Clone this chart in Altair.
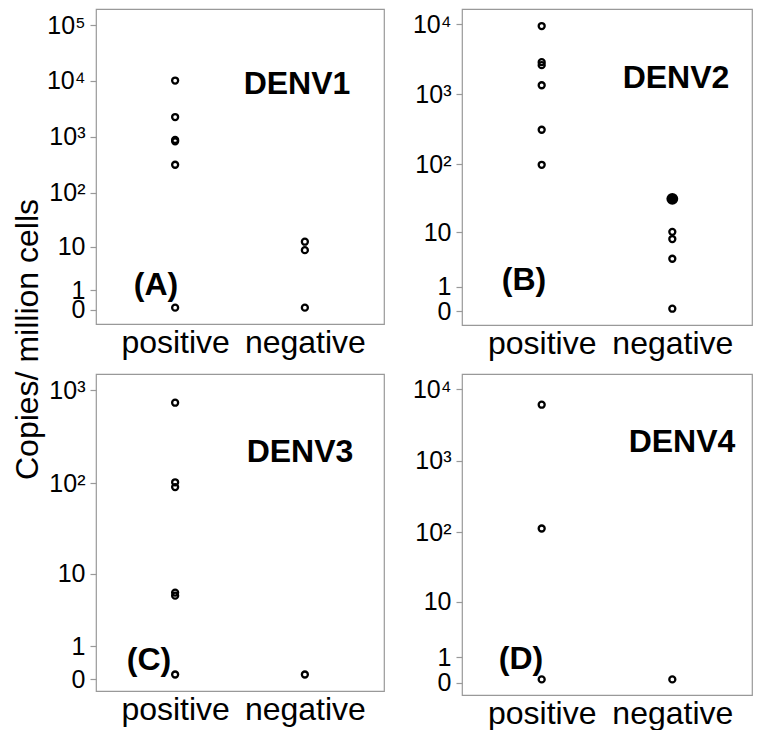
import altair as alt
import pandas as pd

FONT = "Liberation Sans"

categories = ["positive", "negative"]

# values (copies / million cells); "0" samples sit just above zero
a_pos = [10165, 2260, 880, 830, 316, 0.08]
a_neg = [12.5, 8.6, 0.08]
b_pos = [9454, 2883, 2611, 1350, 312, 98]
b_neg = [10.1, 7.8, 3.7, 0.07]
b_neg_filled = [31.4]
c_pos = [736, 102.6, 91.1, 6.0, 5.5, 0.1]
c_neg = [0.1]
d_pos = [6090, 113, 0.09]
d_neg = [0.09]

panel_names = ["DENV1", "DENV2", "DENV3", "DENV4"]
panel_letters = ["(A)", "(B)", "(C)", "(D)"]

tick_values_all = [0, 1, 10, 100, 1000, 10000, 100000]
tick_labels_all = ["0", "1", "10", "10\u00b2", "10\u00b3", "10\u2074", "10\u2075"]

# y domains of each panel
domains = [[-0.627, 193700], [-0.457, 16564], [-0.268, 1496], [-0.388, 16350]]
n_ticks = [7, 6, 5, 6]

# layout (plot-area sizes) and annotation positions
sizes = [(288, 315), (290, 316), (288, 317), (290, 321)]
name_pos = [(201, 75), (214, 69), (204, 78), (220, 68)]
letter_pos = [(60, 276), (62, 271), (53, 286), (59, 285)]


def make_df(pos, neg, neg_filled=None):
    rows = [{"group": "positive", "value": v, "kind": "open"} for v in pos]
    rows += [{"group": "negative", "value": v, "kind": "open"} for v in neg]
    if neg_filled:
        rows += [{"group": "negative", "value": v, "kind": "filled"} for v in neg_filled]
    return pd.DataFrame(rows)


dfs = [
    make_df(a_pos, a_neg),
    make_df(b_pos, b_neg, b_neg_filled),
    make_df(c_pos, c_neg),
    make_df(d_pos, d_neg),
]


def label_expr(vals, labs):
    parts = [f"datum.value == {v} ? '{l}'" for v, l in zip(vals, labs)]
    return " : ".join(parts) + " : datum.label"


def panel(i):
    df = dfs[i]
    w, h = sizes[i]
    vals = tick_values_all[: n_ticks[i]]
    labs = tick_labels_all[: n_ticks[i]]
    axis_kwargs = dict(
        values=vals,
        labelExpr=label_expr(vals, labs),
        labelFontSize=25,
        labelFont=FONT,
        labelColor="black",
        labelOverlap=False,
        tickColor="#999999",
        tickSize=6,
        tickWidth=1.2,
        domain=False,
        grid=False,
        labelPadding=5,
    )
    if i == 0:
        yaxis = alt.Axis(
            title="Copies/ million cells",
            titleX=-69,
            titleY=330,
            titleFontSize=32,
            titleFontWeight="normal",
            titleFont=FONT,
            titleColor="black",
            titleAngle=270,
            titleBaseline="middle",
            titleAlign="center",
            **axis_kwargs,
        )
    else:
        yaxis = alt.Axis(title=None, **axis_kwargs)

    x_enc = alt.X(
        "group:N",
        sort=categories,
        scale=alt.Scale(type="point", padding=0.61, domain=categories),
        axis=alt.Axis(
            title=None,
            labelAngle=0,
            labelFontSize=32,
            labelFont=FONT,
            labelColor="black",
            labelOverlap=False,
            ticks=False,
            domain=False,
            grid=False,
            labelPadding=3,
        ),
    )
    y_enc = alt.Y(
        "value:Q",
        scale=alt.Scale(type="symlog", constant=0.8, domain=domains[i], nice=False, zero=False),
        axis=yaxis,
    )

    base = alt.Chart(df)
    open_pts = base.transform_filter(alt.datum.kind == "open").mark_point(
        shape="circle", filled=False, color="black", strokeWidth=2.3, size=36, opacity=1
    ).encode(x=x_enc, y=y_enc)
    layers = [open_pts]
    if (df["kind"] == "filled").any():
        filled_pts = base.transform_filter(alt.datum.kind == "filled").mark_circle(
            size=140, color="black", opacity=1
        ).encode(x=x_enc, y=y_enc)
        layers.append(filled_pts)

    nx, ny = name_pos[i]
    lx, ly = letter_pos[i]
    name_txt = alt.Chart(pd.DataFrame({"label": [panel_names[i]]})).mark_text(
        font=FONT, fontSize=32, fontWeight="bold", color="black", align="center", baseline="middle"
    ).encode(x=alt.value(nx), y=alt.value(ny), text="label:N")
    letter_txt = alt.Chart(pd.DataFrame({"label": [panel_letters[i]]})).mark_text(
        font=FONT, fontSize=32, fontWeight="bold", color="black", align="center", baseline="middle"
    ).encode(x=alt.value(lx), y=alt.value(ly), text="label:N")
    layers += [name_txt, letter_txt]
    return alt.layer(*layers).properties(width=w, height=h)


chart = (
    alt.concat(
        panel(0), panel(1), panel(2), panel(3),
        columns=2,
        spacing={"row": 49, "column": 78},
        bounds="flush",
    )
    .resolve_scale(x="independent", y="independent")
    .properties(padding={"left": 2, "top": 0, "right": 0, "bottom": 0}, background="white")
    .configure(font=FONT)
    .configure_view(stroke="#999999", strokeWidth=1.2)
)

chart.save("out.html", embed_options={"renderer": "svg", "actions": False})
